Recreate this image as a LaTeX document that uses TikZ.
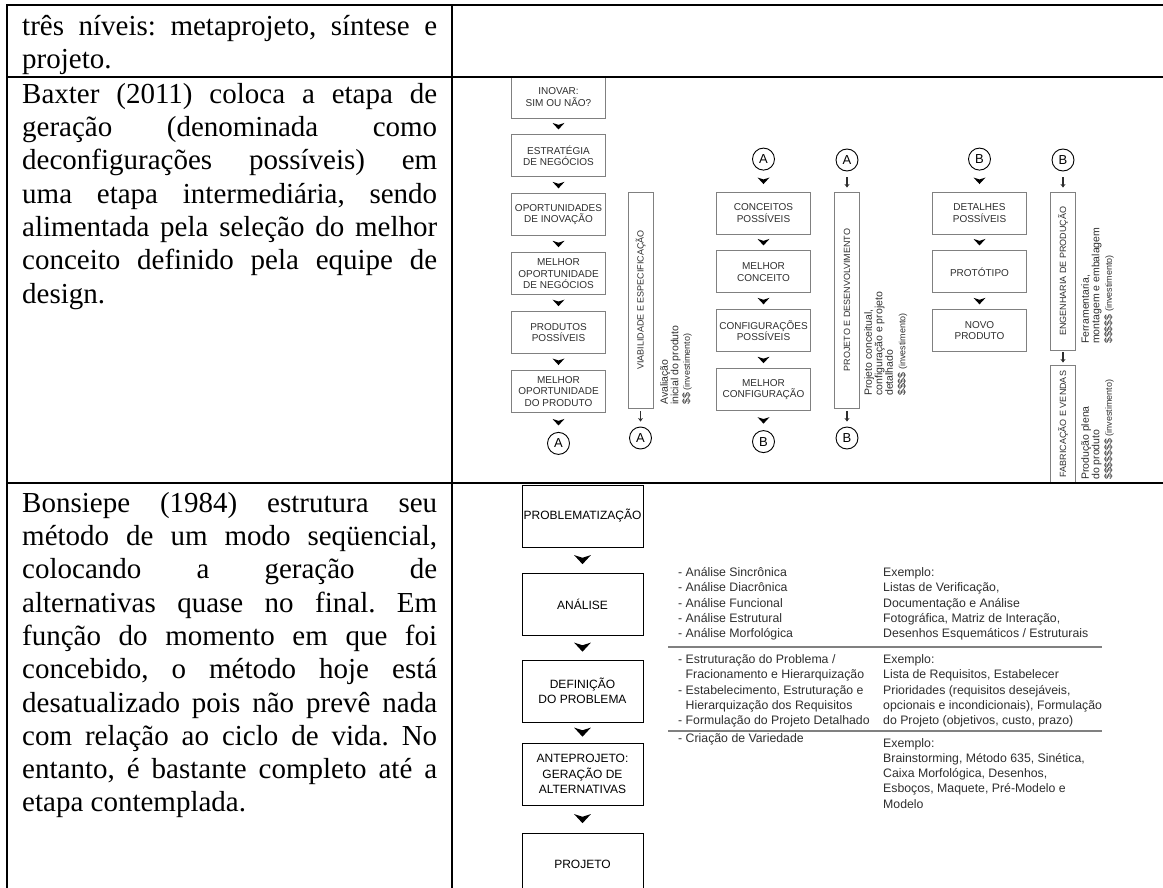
\documentclass[tikz,border=0pt]{standalone}
\usepackage{fontspec}
\setmainfont{Liberation Serif}
\setsansfont{Liberation Sans}
\usetikzlibrary{calc,positioning,arrows.meta}

\definecolor{boxgray}{gray}{0.5}
\definecolor{inkgray}{gray}{0.18}

\tolerance=10000
\hbadness=10000
\frenchspacing

\tikzset{
  chevron/.pic={\fill (-6,-3.5) -- (0,-1.6) -- (6,-3.5) -- (0,3) -- cycle;},
}
\newcommand{\chev}[3][]{\pic[#1] at ($(#2.south)!0.5!(#3.north)$) {chevron};}
\newcommand{\invest}{{\fontsize{9}{10}\selectfont(investimento)}}

\begin{document}
\begin{tikzpicture}[x=1pt,y=-1pt,
  celltext/.style={anchor=north west, inner sep=0pt, text width=415pt, align=justify,
    font=\fontsize{29}{33.3}\selectfont},
  bax/.style={draw=boxgray, line width=0.9pt, minimum width=94pt, minimum height=42pt,
    inner sep=0pt, align=center, text=inkgray, font=\sffamily\fontsize{10}{11.5}\selectfont},
  vbar/.style={draw=boxgray, line width=0.9pt, rotate=90, minimum height=25pt,
    inner sep=0pt, text=inkgray, font=\sffamily\fontsize{9}{10}\selectfont},
  link/.style={draw=black, circle, line width=0.9pt, minimum size=22pt, inner sep=0pt,
    font=\sffamily\fontsize{13}{13}\selectfont},
  note/.style={rotate=90, anchor=north west, inner sep=0pt, align=left, text=inkgray,
    font=\sffamily\fontsize{10.5}{10.5}\selectfont},
  barrow/.style={-{Stealth[length=3.5pt,width=5pt]}, line width=1.6pt, draw=inkgray},
  bon/.style={draw=black, line width=1pt, minimum width=121pt, minimum height=62pt,
    inner sep=0pt, align=center, font=\sffamily\fontsize{12}{15.5}\selectfont},
  lst/.style={anchor=north west, inner sep=0pt, align=left, text=inkgray,
    font=\sffamily\fontsize{12.3}{15.3}\selectfont},
  divider/.style={draw=gray, line width=1.3pt},
  tabline/.style={line width=2.4pt}
]
\useasboundingbox (0,0) rectangle (1163,888);
\clip (0,0) rectangle (1163,888);

% coluna de texto
\node[celltext] (row1) at (22,11.7) {\strut três níveis: metaprojeto, síntese e\linebreak projeto.};
\node[celltext] (row2) at (22,79.7) {\strut Baxter (2011) coloca a etapa de\linebreak
  geração (denominada como\linebreak deconfigurações possíveis) em\linebreak
  uma etapa intermediária, sendo\linebreak alimentada pela seleção do melhor\linebreak
  conceito definido pela equipe de\linebreak design.};
\node[celltext] (row3) at (22,488.7) {\strut Bonsiepe (1984) estrutura seu\linebreak
  método de um modo seqüencial,\linebreak colocando a geração de\linebreak
  alternativas quase no final. Em\linebreak função do momento em que foi\linebreak
  concebido, o método hoje está\linebreak desatualizado pois não prevê nada\linebreak
  com relação ao ciclo de vida. No\linebreak entanto, é bastante completo até a\linebreak
  etapa contemplada.};

% Baxter
\node[bax] (inovar) at (558.5,97) {INOVAR:\\SIM OU NÃO?};
\node[bax, below=16pt of inovar] (estrat) {ESTRATÉGIA\\DE NEGÓCIOS};
\node[bax, below=16pt of estrat] (oport) {OPORTUNIDADES\\DE INOVAÇÃO};
\node[bax, below=16pt of oport] (melhop) {MELHOR\\OPORTUNIDADE\\DE NEGÓCIOS};
\node[bax, below=16pt of melhop] (prodpos) {PRODUTOS\\POSSÍVEIS};
\node[bax, below=16pt of prodpos] (melprod) {MELHOR\\OPORTUNIDADE\\DO PRODUTO};
\node[link, below=19pt of melprod] (ca1) {A};

\node[vbar, minimum width=216pt] (viab) at (640.5,300) {VIABILIDADE E ESPECIFICAÇÃO};
\node[link] (ca2) at (640.5,438) {A};
\node[note] (nviab) at (660,405) {Avaliação\\inicial do produto\\[1pt]\$\$ \invest};

\node[bax] (conpos) at (763.5,213) {CONCEITOS\\POSSÍVEIS};
\node[bax, below=16pt of conpos] (melcon) {MELHOR\\CONCEITO};
\node[bax, below=16pt of melcon] (confpos) {CONFIGURAÇÕES\\POSSÍVEIS};
\node[bax, below=16pt of confpos] (melconf) {MELHOR\\CONFIGURAÇÃO};
\node[link, above=21pt of conpos] (ca3) {A};
\node[link, below=19pt of melconf] (cb1) {B};

\node[vbar, minimum width=216pt] (projdes) at (847,300) {PROJETO E DESENVOLVIMENTO};
\node[link] (ca4) at (847,160) {A};
\node[link] (cb2) at (847,438) {B};
\node[note] (nproj) at (864,396) {Projeto conceitual,\\configuração e projeto\\detalhado\\[2pt]\$\$\$\$ \invest};

\node[bax] (detpos) at (979.5,213) {DETALHES\\POSSÍVEIS};
\node[bax, below=16pt of detpos] (prototipo) {PROTÓTIPO};
\node[bax, below=16pt of prototipo] (novo) {NOVO\\PRODUTO};
\node[link, above=21pt of detpos] (cb3) {B};

\node[vbar, minimum width=158pt] (engprod) at (1063,271) {ENGENHARIA DE PRODUÇÃO};
\node[vbar, minimum width=118pt] (fabven) at (1063,424) {FABRICAÇÃO E VENDAS};
\node[link] (cb4) at (1063,160) {B};
\node[note] (neng) at (1081,344) {Ferramentaria,\\montagem e embalagem\\[2pt]\$\$\$\$\$ \invest};
\node[note] (nfab) at (1081,480) {Produção plena\\do produto\\[2pt]\$\$\$\$\$\$\$ \invest};

\chev{inovar}{estrat} \chev{estrat}{oport} \chev{oport}{melhop}
\chev{melhop}{prodpos} \chev{prodpos}{melprod} \chev{melprod}{ca1}
\chev{ca3}{conpos} \chev{conpos}{melcon} \chev{melcon}{confpos}
\chev{confpos}{melconf} \chev{melconf}{cb1}
\chev{cb3}{detpos} \chev{detpos}{prototipo} \chev{prototipo}{novo}

\draw[barrow, shorten <=3pt, shorten >=5pt] (viab) -- (ca2);
\draw[barrow, shorten <=6pt, shorten >=4pt] (ca4) -- (projdes);
\draw[barrow, shorten <=3pt, shorten >=5pt] (projdes) -- (cb2);
\draw[barrow, shorten <=6pt, shorten >=4pt] (cb4) -- (engprod);
\draw[barrow, shorten <=2pt, shorten >=2pt] (engprod) -- (fabven);

% Bonsiepe
\node[bon] (probl) at (582.5,516) {PROBLEMATIZAÇÃO};
\node[bon, below=25pt of probl] (analise) {ANÁLISE};
\node[bon, below=24pt of analise] (defprob) {DEFINIÇÃO\\DO PROBLEMA};
\node[bon, below=20pt of defprob] (antepr) {ANTEPROJETO:\\GERAÇÃO DE\\ALTERNATIVAS};
\node[bon, below=27pt of antepr] (projeto) {PROJETO};
\chev[scale=1.4]{probl}{analise} \chev[scale=1.4]{analise}{defprob}
\chev[scale=1.4]{defprob}{antepr} \chev[scale=1.4]{antepr}{projeto}

\node[lst] (lana) at (678,565.6) {\strut- Análise Sincrônica\\- Análise Diacrônica\\- Análise Funcional\\- Análise Estrutural\\- Análise Morfológica};
\node[lst] (exana) at (883,565.6) {\strut Exemplo:\\Listas de Verificação,\\Documentação e Análise\\Fotográfica, Matriz de Interação,\\Desenhos Esquemáticos / Estruturais};
\draw[divider] (668,647) -- (1102,647);
\node[lst] (ldef) at (678,652.6) {\strut- Estruturação do Problema /\\\hspace*{7.5pt}Fracionamento e Hierarquização\\- Estabelecimento, Estruturação e\\\hspace*{7.5pt}Hierarquização dos Requisitos\\- Formulação do Projeto Detalhado};
\node[lst] (exdef) at (883,652.6) {\strut Exemplo:\\Lista de Requisitos, Estabelecer\\Prioridades (requisitos desejáveis,\\opcionais e incondicionais), Formulação\\do Projeto (objetivos, custo, prazo)};
\draw[divider] (668,731) -- (1102,731);
\node[lst] (lant) at (678,731.1) {\strut- Criação de Variedade};
\node[lst] (exant) at (883,736.1) {\strut Exemplo:\\Brainstorming, Método 635, Sinética,\\Caixa Morfológica, Desenhos,\\Esboços, Maquete, Pré-Modelo e\\Modelo};

% linhas da tabela
\draw[tabline] (6,5) -- (1163,5);
\draw[tabline] (6,77) -- (1163,77);
\draw[tabline] (6,483) -- (510,483);
\draw[tabline] (1117,483) -- (1163,483);
\draw[line width=1.2pt] (510,483) -- (1117,483);
\draw[tabline] (7,5) -- (7,888);
\draw[tabline] (452,5) -- (452,888);
\end{tikzpicture}
\end{document}
